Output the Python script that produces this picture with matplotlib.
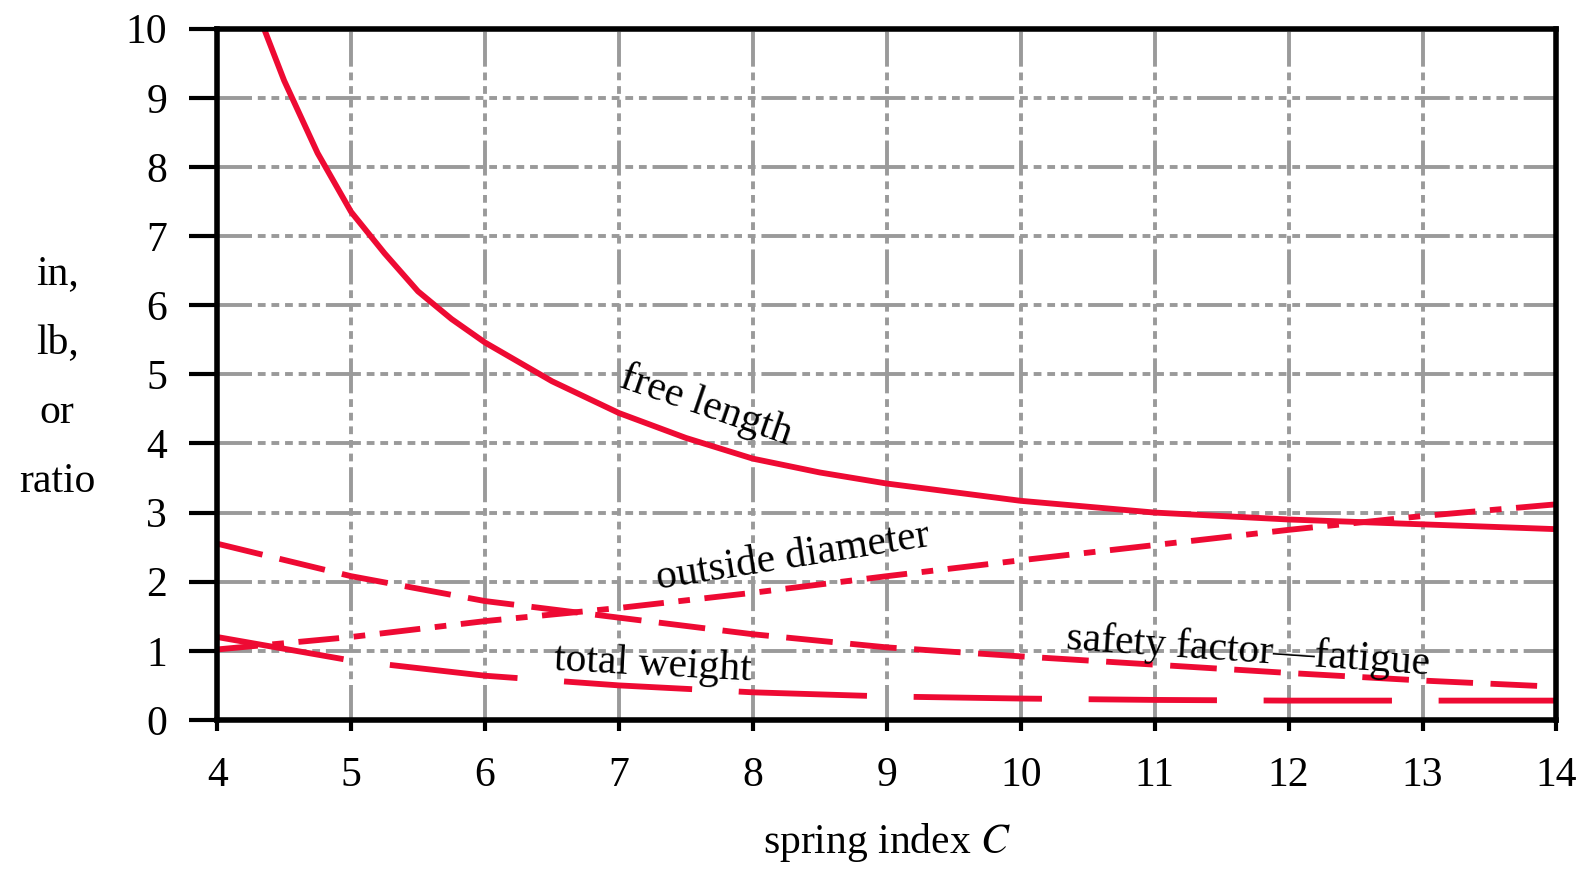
import matplotlib
matplotlib.use("Agg")
import matplotlib.pyplot as plt

# values
free_c = [4.35, 4.5, 4.75, 5.0, 5.25, 5.5, 5.75, 6.0, 6.5, 7.0, 7.5, 8.0, 8.5, 9.0, 10.0, 11.0, 12.0, 13.0, 14.0]
free_len = [10.0, 9.25, 8.2, 7.35, 6.75, 6.2, 5.8, 5.46, 4.9, 4.44, 4.08, 3.78, 3.58, 3.42, 3.17, 3.0, 2.9, 2.83, 2.76]

spring_c = [4, 5, 6, 7, 8, 9, 10, 11, 12, 13, 14]
outside_dia = [1.02, 1.2, 1.43, 1.62, 1.84, 2.08, 2.31, 2.53, 2.75, 2.95, 3.12]
safety_fatigue = [2.55, 2.08, 1.72, 1.48, 1.24, 1.05, 0.92, 0.8, 0.68, 0.57, 0.48]
total_weight = [1.2, 0.86, 0.64, 0.5, 0.4, 0.34, 0.31, 0.29, 0.28, 0.28, 0.28]

labels = ["free length", "outside diameter", "safety factor\u2014fatigue", "total weight"]

RED = "#ee0a33"
GRAY = "#9a9a9a"
FONT = "Liberation Serif"


def main():
    plt.rcParams["font.family"] = FONT
    plt.rcParams["mathtext.fontset"] = "stix"

    fig = plt.figure(figsize=(15.85, 8.69), dpi=100)
    ax = fig.add_axes([0.137, 0.1715, 0.845, 0.7955])

    ax.plot(free_c, free_len, color=RED, lw=4.2, solid_capstyle="butt", zorder=3)
    ax.plot(spring_c, outside_dia, color=RED, lw=4.2, dashes=(7, 2.5, 2, 2.5), zorder=3)
    ax.plot(spring_c, safety_fatigue, color=RED, lw=4.2, dashes=(8, 3), zorder=3)
    ax.plot(spring_c, total_weight, color=RED, lw=4.2, dashes=(22, 8), zorder=3)

    ax.set_xlim(4, 14)
    ax.set_ylim(0, 10)
    ax.set_xticks(range(4, 15))
    ax.set_yticks(range(0, 11))

    ax.grid(True, color=GRAY, lw=2.8, dashes=(9, 1.5, 2, 1.5, 2, 1.5, 2, 1.5, 2, 1.5, 2, 1.5))
    ax.set_axisbelow(True)

    for s in ax.spines.values():
        s.set_linewidth(4)
        s.set_color("black")
        s.set_zorder(4)

    ax.tick_params(axis="y", direction="out", length=20, width=3, pad=16,
                   labelsize=30)
    ax.tick_params(axis="x", direction="out", length=8, width=3, pad=18,
                   labelsize=30)

    ax.set_xlabel("spring index $C$", fontsize=30, labelpad=19)
    fig.text(0.036, 0.565, "in,\nlb,\nor\nratio", fontsize=30, ha="center",
             va="center", linespacing=2.05)

    ax.text(7.65, 4.55, labels[0], fontsize=30, rotation=-19, ha="center",
            va="center", zorder=5)
    ax.text(8.3, 2.35, labels[1], fontsize=30, rotation=9, ha="center",
            va="center", zorder=5)
    ax.text(11.7, 1.0, labels[2], fontsize=30, rotation=-4, ha="center",
            va="center", zorder=5)
    ax.text(7.25, 0.8, labels[3], fontsize=30, rotation=-3, ha="center",
            va="center", zorder=5)

    fig.savefig("out.png", dpi=100)


if __name__ == "__main__":
    main()
